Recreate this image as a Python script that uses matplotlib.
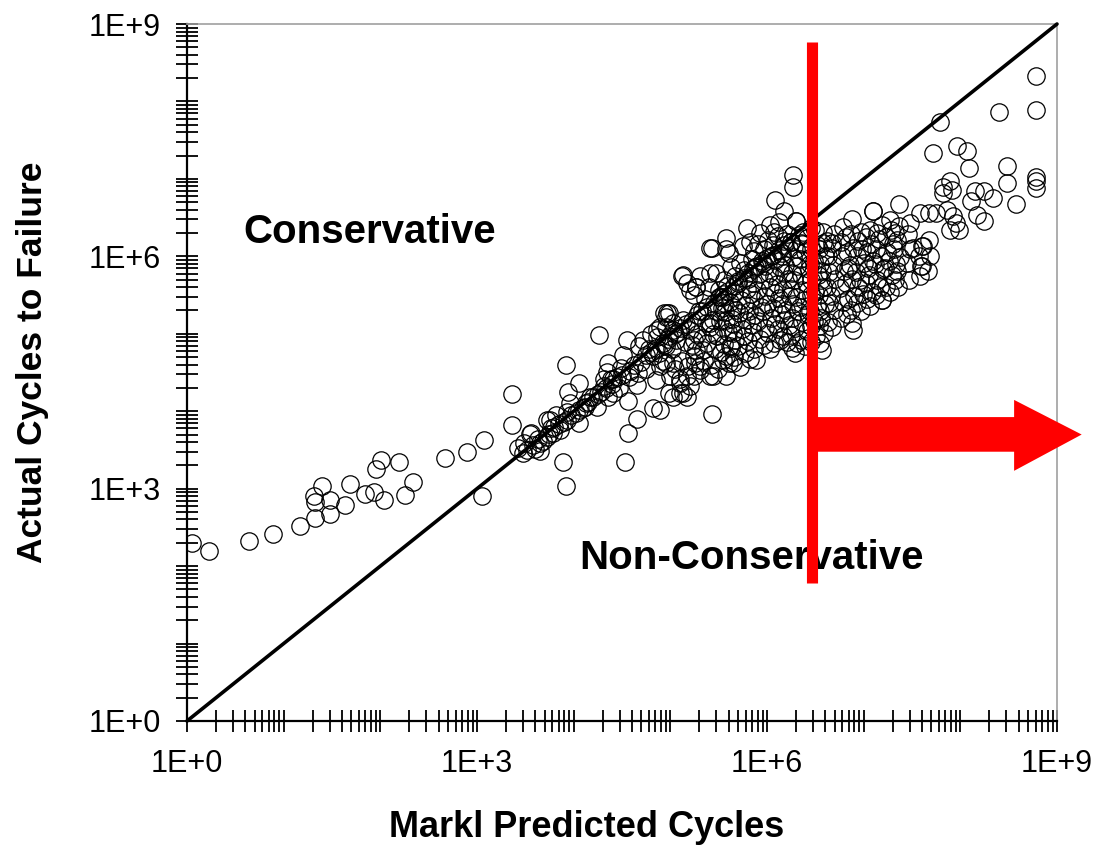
import numpy as np
import matplotlib
matplotlib.use("Agg")
import matplotlib.pyplot as plt
from matplotlib.ticker import FixedLocator, FuncFormatter, NullFormatter
from matplotlib.patches import Polygon

plt.rcParams['font.family'] = ['Liberation Sans', 'DejaVu Sans']

# Test points as (log10 predicted cycles, log10 actual cycles)
low_cycle = [
    (0.05, 2.30), (0.23, 2.20), (0.64, 2.33), (0.89, 2.42), (1.17, 2.52),
    (1.32, 2.62), (1.31, 2.90), (1.32, 2.83), (1.40, 3.04), (1.48, 2.86),
    (1.48, 2.67), (1.63, 2.79), (1.69, 3.06), (1.84, 2.93), (1.93, 2.96),
    (2.04, 2.86), (1.96, 3.26), (2.01, 3.37), (2.19, 3.34), (2.34, 3.09),
    (2.26, 2.92), (2.67, 3.40), (2.90, 3.47), (3.07, 3.63), (3.05, 2.90),
    (3.36, 3.82), (3.36, 4.22), (3.42, 3.53),
]

transition = [
    (3.48, 3.46), (3.55, 3.70), (3.65, 3.48), (3.79, 3.72), (3.75, 3.89),
    (3.93, 3.89), (4.06, 3.85), (3.72, 3.89), (3.82, 3.95), (3.93, 3.99),
    (3.56, 3.72), (3.49, 3.59), (3.65, 3.59), (3.60, 3.51), (3.72, 3.67),
    (3.86, 3.76), (3.77, 3.78), (4.06, 4.02), (4.13, 4.10), (3.96, 4.10),
    (4.17, 4.19), (4.12, 4.06), (4.24, 4.06), (4.26, 4.99), (3.92, 4.60),
    (4.55, 4.92), (4.68, 4.84), (4.05, 4.37), (3.94, 4.25), (3.89, 3.35),
    (3.92, 3.03), (4.53, 3.35), (4.56, 3.72), (4.56, 4.13), (4.65, 3.90),
    (4.82, 4.04), (5.43, 3.97), (4.65, 4.34), (4.67, 4.49), (4.51, 4.73),
    (4.34, 4.51), (4.36, 4.62), (4.41, 4.41), (4.31, 4.41), (4.49, 4.56),
    (4.39, 4.41), (4.31, 4.32), (4.41, 4.23), (4.36, 4.19), (4.47, 4.30),
    (4.57, 4.44), (4.25, 4.22),
]

# Points hugging the one-to-one line
near_diagonal = [
    (3.52, 3.50), (3.58, 3.56), (3.63, 3.64), (3.68, 3.62), (3.74, 3.70),
    (3.80, 3.80), (3.85, 3.83), (3.90, 3.86), (3.97, 3.95), (4.02, 3.98),
    (4.10, 4.04), (4.15, 4.12), (4.20, 4.18), (4.28, 4.25), (4.33, 4.30),
    (4.40, 4.35), (4.45, 4.44), (4.50, 4.47), (4.58, 4.52), (4.62, 4.60),
    (4.70, 4.64), (4.75, 4.72), (4.80, 4.76), (4.85, 4.82), (4.92, 4.88),
    (4.98, 4.93), (5.05, 5.00), (5.10, 5.07), (5.16, 5.12), (5.22, 5.17),
    (5.28, 5.24), (5.33, 5.30), (5.38, 5.34), (5.45, 5.40), (5.50, 5.47),
    (5.55, 5.52), (5.60, 5.55), (5.66, 5.62), (5.70, 5.68), (5.76, 5.72),
    (5.80, 5.78), (5.86, 5.83), (5.90, 5.88), (5.96, 5.92), (6.00, 5.98),
    (6.06, 6.02), (6.12, 6.08), (6.18, 6.14), (6.25, 6.18), (6.35, 6.17),
    (6.45, 6.36),
]

upper_band = [
    (4.96, 5.22), (5.03, 5.05), (4.96, 4.84), (4.89, 4.58), (5.03, 4.62),
    (5.10, 4.41), (5.13, 4.24), (4.99, 4.24), (4.89, 4.02), (5.27, 4.79),
    (5.24, 4.45), (5.31, 4.53), (5.44, 4.45), (5.20, 5.57), (5.37, 5.14),
    (5.56, 5.40), (5.58, 5.18), (5.62, 4.84), (5.65, 4.62), (5.12, 5.74),
    (5.41, 5.78), (5.41, 6.11), (5.27, 5.61), (4.99, 5.27), (5.24, 5.50),
    (5.51, 5.48), (5.44, 5.18), (5.41, 5.14), (5.24, 4.92), (5.34, 4.79),
    (5.24, 4.71), (5.17, 4.45), (5.10, 4.36), (4.96, 4.62), (4.93, 4.86),
    (5.06, 4.92), (4.82, 4.71), (4.86, 5.05), (4.72, 4.92), (4.96, 5.09),
    (5.65, 5.35), (5.65, 5.01), (5.58, 4.71), (5.58, 4.45), (5.41, 4.45),
    (5.31, 4.58), (5.20, 4.32), (5.10, 4.23), (5.03, 4.19), (5.17, 4.19),
    (4.93, 5.27), (5.03, 5.14), (5.13, 5.18), (4.89, 5.09), (4.99, 4.97),
    (5.17, 5.65), (5.13, 5.76), (5.31, 5.74), (5.27, 5.61), (4.97, 5.27),
    (4.86, 4.96), (5.43, 6.11), (5.58, 6.24), (5.58, 6.09), (5.79, 6.36),
    (6.08, 6.73), (6.18, 6.58), (6.27, 7.05), (6.27, 6.90), (5.41, 5.09),
    (6.58, 6.32), (6.67, 6.17), (6.37, 6.32), (6.30, 6.45),
    (4.75, 4.55), (4.78, 4.80), (4.80, 5.00), (4.85, 4.40), (4.88, 4.75),
    (4.92, 4.65), (5.00, 4.45), (5.02, 4.80), (5.05, 4.55), (5.08, 5.02),
    (5.12, 4.65), (5.15, 4.90), (5.18, 4.58), (5.20, 5.05), (5.22, 4.85),
    (5.26, 4.62), (5.28, 5.00), (5.30, 5.30), (5.33, 4.95), (5.35, 4.65),
    (5.36, 5.45), (5.38, 4.88), (5.40, 5.60), (5.42, 4.60), (5.44, 5.00),
    (5.46, 4.80), (5.47, 5.30),
]

dense_core = [
    (5.49, 4.55), (5.52, 4.76), (5.48, 4.97), (5.51, 5.16), (5.53, 5.33), (5.50, 5.57), (5.47, 5.79),
    (5.61, 4.62), (5.63, 4.81), (5.60, 5.02), (5.64, 5.19), (5.62, 5.41), (5.59, 5.62), (5.63, 5.86), (5.61, 6.04),
    (5.72, 4.57), (5.70, 4.84), (5.74, 5.06), (5.71, 5.27), (5.73, 5.44), (5.70, 5.66), (5.72, 5.91), (5.75, 6.13),
    (5.82, 4.68), (5.80, 4.91), (5.84, 5.11), (5.81, 5.29), (5.83, 5.52), (5.80, 5.71), (5.84, 5.96), (5.82, 6.19),
    (5.89, 4.66), (5.93, 4.93), (5.91, 5.16), (5.94, 5.34), (5.90, 5.56), (5.92, 5.77), (5.95, 5.94), (5.91, 6.16), (5.93, 6.30),
    (6.03, 4.80), (6.01, 5.01), (6.04, 5.21), (6.00, 5.39), (6.03, 5.61), (6.02, 5.79), (6.05, 6.01), (6.01, 6.21), (6.03, 6.40),
    (6.13, 4.92), (6.11, 5.06), (6.14, 5.26), (6.12, 5.46), (6.10, 5.64), (6.13, 5.86), (6.15, 6.04), (6.11, 6.26), (6.12, 6.44),
    (6.21, 4.89), (6.23, 5.11), (6.20, 5.31), (6.24, 5.49), (6.22, 5.71), (6.19, 5.89), (6.23, 6.11), (6.21, 6.29),
    (6.29, 4.75), (6.31, 4.88), (6.29, 5.07), (6.32, 5.29), (6.30, 5.47), (6.28, 5.69), (6.31, 5.87), (6.30, 6.09), (6.33, 6.27), (6.30, 6.45),
    (6.39, 4.84), (6.41, 5.04), (6.42, 5.26), (6.38, 5.44), (6.40, 5.66), (6.43, 5.84), (6.39, 6.06), (6.41, 6.24),
    (6.51, 4.97), (6.49, 5.16), (6.52, 5.36), (6.50, 5.54), (6.53, 5.76), (6.49, 5.94), (6.52, 6.14), (6.50, 6.34),
    (6.57, 4.79), (6.59, 5.01), (6.56, 5.21), (6.60, 5.39), (6.58, 5.61), (6.57, 5.81), (6.60, 6.01), (6.58, 6.17),
    (6.67, 5.09), (6.69, 5.31), (6.66, 5.49), (6.70, 5.71), (6.68, 5.89), (6.67, 6.11), (6.69, 6.29),
    (6.77, 5.21), (6.79, 5.41), (6.76, 5.59), (6.80, 5.81), (6.78, 6.01), (6.77, 6.19), (6.79, 6.38),
    (6.89, 5.05), (6.88, 5.14), (6.87, 5.31), (6.90, 5.49), (6.88, 5.71), (6.86, 5.89), (6.89, 6.11), (6.87, 6.29), (6.88, 6.48),
    (6.97, 5.29), (6.99, 5.51), (6.96, 5.69), (7.00, 5.91), (6.98, 6.09), (6.97, 6.31),
    (7.07, 5.36), (7.09, 5.54), (7.06, 5.76), (7.10, 5.94), (7.08, 6.16), (7.07, 6.34), (7.10, 6.58),
    (7.19, 5.44), (7.17, 5.61), (7.20, 5.83), (7.18, 6.01), (7.16, 6.23), (7.19, 6.41),
    (7.27, 5.54), (7.29, 5.76), (7.26, 5.94), (7.30, 6.16), (7.28, 6.34), (7.27, 6.47),
    (7.36, 5.61), (7.35, 5.81), (7.38, 5.99), (7.34, 6.21), (7.37, 6.39), (7.37, 6.67),
    (7.47, 5.69), (7.45, 5.91), (7.48, 6.09), (7.46, 6.29), (7.48, 6.43),
    (7.58, 5.74), (7.59, 5.87), (7.57, 6.00), (7.60, 6.13), (7.58, 6.56),
    (7.67, 5.81), (7.69, 6.01), (7.68, 6.21), (7.68, 6.56),
    (5.55, 4.66), (5.56, 4.87), (5.54, 5.08), (5.57, 5.28), (5.55, 5.48), (5.56, 5.70),
    (5.66, 4.70), (5.67, 4.92), (5.65, 5.12), (5.68, 5.31), (5.66, 5.53), (5.67, 5.74),
    (5.77, 4.75), (5.76, 4.97), (5.78, 5.18), (5.77, 5.37), (5.79, 5.58), (5.76, 5.82),
    (5.87, 4.80), (5.86, 5.02), (5.88, 5.24), (5.87, 5.44), (5.86, 5.65), (5.88, 5.86), (5.87, 6.07),
    (5.97, 4.86), (5.98, 5.08), (5.96, 5.29), (5.98, 5.49), (5.97, 5.70), (5.98, 5.88), (5.97, 6.10),
    (6.07, 4.88), (6.08, 5.12), (6.06, 5.33), (6.08, 5.53), (6.07, 5.74), (6.08, 5.95), (6.06, 6.14), (6.07, 6.32),
    (6.17, 4.97), (6.18, 5.18), (6.16, 5.38), (6.17, 5.58), (6.18, 5.79), (6.16, 6.00), (6.18, 6.20),
    (6.26, 4.82), (6.25, 4.98), (6.26, 5.20), (6.27, 5.39), (6.25, 5.58), (6.26, 5.79), (6.27, 5.99), (6.25, 6.19),
    (6.35, 4.92), (6.36, 5.15), (6.34, 5.35), (6.36, 5.56), (6.35, 5.76), (6.34, 5.96), (6.36, 6.16),
    (6.45, 4.90), (6.46, 5.10), (6.44, 5.30), (6.46, 5.50), (6.45, 5.70), (6.44, 5.90), (6.46, 6.10),
    (6.55, 4.88), (6.54, 5.10), (6.55, 5.30), (6.54, 5.50), (6.56, 5.70), (6.55, 5.90), (6.54, 6.10),
    (6.63, 5.15), (6.64, 5.40), (6.62, 5.60), (6.64, 5.80), (6.63, 6.00), (6.62, 6.20),
    (6.83, 5.25), (6.84, 5.45), (6.82, 5.65), (6.84, 5.85), (6.83, 6.05), (6.82, 6.25),
    (6.93, 5.40), (6.94, 5.60), (6.92, 5.80), (6.93, 6.00), (6.94, 6.20),
    (7.03, 5.45), (7.02, 5.65), (7.04, 5.85), (7.03, 6.05), (7.02, 6.25),
    (7.13, 5.50), (7.14, 5.70), (7.12, 5.90), (7.13, 6.10), (7.14, 6.30),
    (7.23, 5.60), (7.22, 5.85), (7.24, 6.05), (7.23, 6.25),
    (7.32, 5.70), (7.33, 5.90), (7.31, 6.10), (7.32, 6.30),
]

long_life = [
    (8.78, 8.33), (8.78, 7.89), (8.40, 7.86), (7.79, 7.73), (7.72, 7.33),
    (7.97, 7.42), (8.07, 7.36), (8.09, 7.14), (8.48, 7.17), (8.48, 6.95),
    (8.58, 6.67), (8.78, 7.03), (8.78, 6.97), (8.78, 6.88), (7.89, 6.97),
    (7.82, 6.82), (7.91, 6.86), (8.15, 6.84), (8.25, 6.84), (8.34, 6.75),
    (8.11, 6.71), (8.25, 6.45), (8.17, 6.54), (7.92, 6.52), (7.96, 6.43),
    (7.89, 6.34), (7.86, 6.60), (7.99, 6.34), (7.82, 6.90), (7.75, 6.56),
    (7.51, 6.11), (7.61, 6.13), (7.60, 5.87), (7.19, 5.44), (7.10, 6.58),
]

points = np.array(low_cycle + transition + near_diagonal + upper_band
                  + dense_core + long_life)
predicted_cycles = 10 ** points[:, 0]
actual_cycles = 10 ** points[:, 1]

# Boundary of the highlighted high-cycle region and the arrow pointing into it
region_start = 2.9e6
region_span = (60, 5.9e8)
arrow_tail_y = (3.0e3, 8.4e3)
arrow_head_y = (1.7e3, 1.4e4)
arrow_mid_y = 5.0e3
arrow_head_base = 3.6e8
arrow_tip = 1.8e9

fig = plt.figure(figsize=(10.98, 8.48), dpi=100)
ax = fig.add_axes([187 / 1098, 127 / 848, 870 / 1098, 697 / 848])
ax.set_xscale('log')
ax.set_yscale('log')
ax.set_xlim(1, 1e9)
ax.set_ylim(1, 1e9)

ax.plot(predicted_cycles, actual_cycles, linestyle='none', marker='o',
        markersize=12.5, markerfacecolor='none', markeredgecolor='black',
        markeredgewidth=0.9, zorder=3)

ax.plot([1, 1e9], [1, 1e9], color='black', lw=2.6, solid_capstyle='round',
        clip_on=False, zorder=4)

ax.plot([region_start, region_start], region_span, color='#ff0000', lw=8,
        solid_capstyle='butt', clip_on=False, zorder=5)
arrow = Polygon([
    (region_start, arrow_tail_y[0]), (arrow_head_base, arrow_tail_y[0]),
    (arrow_head_base, arrow_head_y[0]), (arrow_tip, arrow_mid_y),
    (arrow_head_base, arrow_head_y[1]), (arrow_head_base, arrow_tail_y[1]),
    (region_start, arrow_tail_y[1]),
], closed=True, facecolor='#ff0000', edgecolor='none', clip_on=False, zorder=5)
ax.add_patch(arrow)

ax.text(10 ** 0.58, 10 ** 6.32, 'Conservative', fontsize=29, fontweight='bold',
        ha='left', va='center')
ax.text(10 ** 4.06, 10 ** 2.11, 'Non-Conservative', fontsize=29, fontweight='bold',
        ha='left', va='center')

decades = [10.0 ** k for k in range(10)]
minor = [m * 10.0 ** k for k in range(9) for m in range(2, 10)]


def decade_label(v, pos):
    e = int(round(np.log10(v)))
    return f'1E+{e}' if e % 3 == 0 else ''


for axis in (ax.xaxis, ax.yaxis):
    axis.set_major_locator(FixedLocator(decades))
    axis.set_minor_locator(FixedLocator(minor))
    axis.set_major_formatter(FuncFormatter(decade_label))
    axis.set_minor_formatter(NullFormatter())

ax.tick_params(which='both', direction='inout', length=16, width=1.3,
               color='black', top=False, right=False, labelsize=22)
ax.tick_params(axis='x', pad=12)
ax.tick_params(axis='y', pad=11)

ax.spines['left'].set_linewidth(1.6)
ax.spines['bottom'].set_linewidth(1.6)
for s in ('top', 'right'):
    ax.spines[s].set_color('#a0a0a0')
    ax.spines[s].set_linewidth(1.2)

fig.text(0.534, 0.0236, 'Markl Predicted Cycles', fontsize=26, fontweight='bold',
         ha='center', va='center')
fig.text(0.030, 0.573, 'Actual Cycles to Failure', fontsize=25.5, fontweight='bold',
         ha='center', va='center', rotation=90)

fig.savefig('out.png', dpi=100)
